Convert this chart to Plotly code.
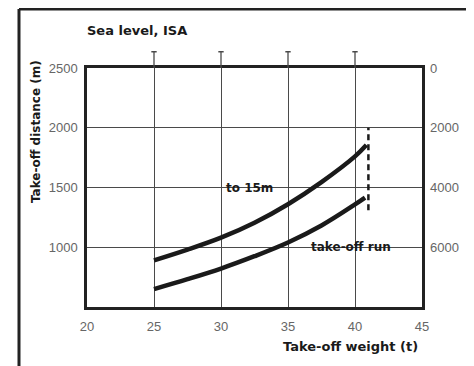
import plotly.graph_objects as go

# ---- data ----
weight_15m = [25, 27.5, 30, 32.5, 35, 37.5, 40, 40.85]
dist_15m = [890, 980, 1080, 1205, 1360, 1545, 1760, 1855]
weight_run = [25, 27.5, 30, 32.5, 35, 37.5, 40, 40.75]
dist_run = [650, 733, 822, 925, 1040, 1182, 1358, 1415]
limit_weight = [41, 41]
limit_dist = [1310, 2000]

x_ticks = [20, 25, 30, 35, 40, 45]
x_grid = [25, 30, 35, 40]
y_ticks = [1000, 1500, 2000, 2500]
y_right_labels = ["6000", "4000", "2000", "0"]

INK = "#1a1a1a"
GRID = "#4a4a4a"
TICKC = "#666666"
BOLD = "DejaVu Sans"

fig = go.Figure()
fig.add_trace(go.Scatter(x=weight_15m, y=dist_15m, mode="lines",
                         line=dict(color=INK, width=4.5, shape="spline", smoothing=1),
                         showlegend=False, hoverinfo="skip"))
fig.add_trace(go.Scatter(x=weight_run, y=dist_run, mode="lines",
                         line=dict(color=INK, width=4.5, shape="spline", smoothing=1),
                         showlegend=False, hoverinfo="skip"))
fig.add_trace(go.Scatter(x=limit_weight, y=limit_dist, mode="lines",
                         line=dict(color=INK, width=2.5, dash="6px,4px"),
                         showlegend=False, hoverinfo="skip"))
# invisible trace on right axis to activate it
fig.add_trace(go.Scatter(x=[None], y=[None], yaxis="y2", showlegend=False))

shapes = []
# gridline extensions above plot with T caps
for gx in x_grid:
    shapes.append(dict(type="line", xref="x", yref="paper", x0=gx, x1=gx,
                       y0=1, y1=1.068, line=dict(color=GRID, width=1.3)))
    shapes.append(dict(type="line", xref="x", yref="paper", x0=gx - 0.2, x1=gx + 0.2,
                       y0=1.068, y1=1.068, line=dict(color=GRID, width=1.5)))
# outer frame (top and left)
shapes.append(dict(type="line", xref="paper", yref="paper", x0=-0.203, x1=2,
                   y0=1.247, y1=1.247, line=dict(color="#222", width=3)))
shapes.append(dict(type="line", xref="paper", yref="paper", x0=-0.203, x1=-0.203,
                   y0=-2, y1=1.247, line=dict(color="#222", width=3)))

annotations = [
    dict(text="Sea level, ISA", xref="paper", yref="paper", x=-0.005, y=1.155,
         xanchor="left", yanchor="middle", showarrow=False,
         font=dict(family=BOLD, size=13, color=INK, weight="bold")),
    dict(text="Take-off distance (m)", xref="paper", yref="paper", x=-0.15, y=0.735,
         xanchor="center", yanchor="middle", textangle=-90, showarrow=False,
         font=dict(family=BOLD, size=12, color=INK, weight="bold")),
    dict(text="Take-off weight (t)", xref="paper", yref="paper", x=0.995, y=-0.165,
         xanchor="right", yanchor="middle", showarrow=False,
         font=dict(family=BOLD, size=13, color=INK, weight="bold")),
    dict(text="to 15m", xref="x", yref="y", x=32.1, y=1500,
         xanchor="center", yanchor="middle", showarrow=False,
         font=dict(family=BOLD, size=12, color=INK, weight="bold")),
    dict(text="take-off run", xref="x", yref="y", x=39.7, y=1000,
         xanchor="center", yanchor="middle", showarrow=False,
         font=dict(family=BOLD, size=12, color=INK, weight="bold")),
]

fig.update_layout(
    width=466, height=358,
    margin=dict(l=79, r=52, t=60, b=59, autoexpand=False),
    paper_bgcolor="white", plot_bgcolor="white",
    showlegend=False,
    shapes=shapes, annotations=annotations,
    xaxis=dict(range=[20, 45], tickvals=x_ticks, showgrid=True, automargin=False,
               gridcolor=GRID, gridwidth=1.3, showline=True, mirror=True,
               linecolor="#222", linewidth=2.5, ticks="", zeroline=False,
               ticklabelstandoff=6,
               tickfont=dict(family="Liberation Sans", size=13, color=TICKC)),
    yaxis=dict(range=[500, 2500], tickvals=y_ticks, showgrid=True, automargin=False,
               gridcolor=GRID, gridwidth=1.3, showline=True, mirror=True,
               linecolor="#222", linewidth=2.5, ticks="", zeroline=False,
               ticklabelstandoff=4,
               tickfont=dict(family="Liberation Sans", size=13, color=TICKC)),
    yaxis2=dict(range=[500, 2500], tickvals=y_ticks, ticktext=y_right_labels,
                overlaying="y", side="right", showgrid=False, showline=False,
                zeroline=False, ticks="", automargin=False, ticklabelstandoff=7,
                tickfont=dict(family="Liberation Sans", size=13, color=TICKC)),
)

fig.write_html("out.html")
